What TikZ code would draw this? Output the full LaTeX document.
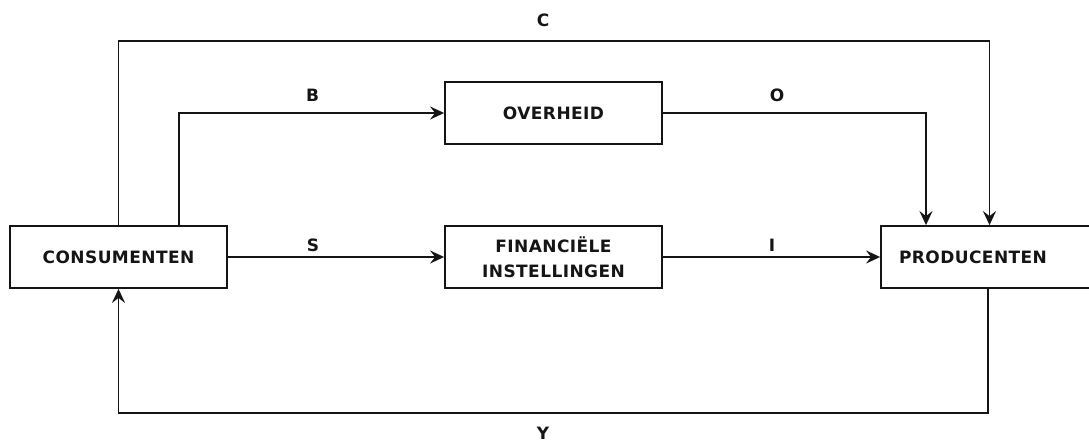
\documentclass[tikz,border=0pt]{standalone}
\usepackage{fontspec}
\newfontfamily\lblfont[LetterSpace=2.5]{DejaVu Sans}
\usetikzlibrary{arrows.meta}
\definecolor{ink}{HTML}{151515}
\begin{document}
\begin{tikzpicture}[x=1pt,y=-1pt,
  every node/.style={font=\lblfont\bfseries\fontsize{17}{25}\selectfont, text=ink},
  box/.style={draw=ink, line width=1.8pt, minimum width=217pt, minimum height=62pt, inner sep=0pt, align=center},
  lbl/.style={inner sep=0pt},
  arr/.style={draw=ink, line width=1.8pt, -{Stealth[length=14pt,width=13pt,inset=5pt]}}]
\clip (0,0) rectangle (1089,446);
\fill[white] (0,0) rectangle (1089,446);
\node[box] (cons) at (118.5,257) {CONSUMENTEN};
\node[box] (over) at (553.5,113) {OVERHEID};
\node[box] (fin) at (553.5,257) {FINANCI\"ELE\\INSTELLINGEN};
\node[box] (prod) at (989.5,257) {};
\node[lbl] (prodlbl) at (973,257) {PRODUCENTEN};
\coordinate (ctop) at (543,41);
\coordinate (ybot) at (543,413);
\draw[arr] (cons.north) |- (ctop) -| (prod.north);
\draw[arr] ([xshift=60.5pt]cons.north) |- (over.west);
\draw[arr] (over.east) -| ([xshift=-63.5pt]prod.north);
\draw[arr] (cons.east) -- (fin.west);
\draw[arr] (fin.east) -- (prod.west);
\draw[arr] ([xshift=-1.5pt]prod.south) |- (ybot) -| (cons.south);
\node[lbl] (lC) at (543,20) {C};
\node[lbl] (lB) at (312.5,95) {B};
\node[lbl] (lO) at (777,95) {O};
\node[lbl] (lS) at (313,245) {S};
\node[lbl] (lI) at (772,245) {I};
\node[lbl] (lY) at (543,433) {Y};
\end{tikzpicture}
\end{document}
